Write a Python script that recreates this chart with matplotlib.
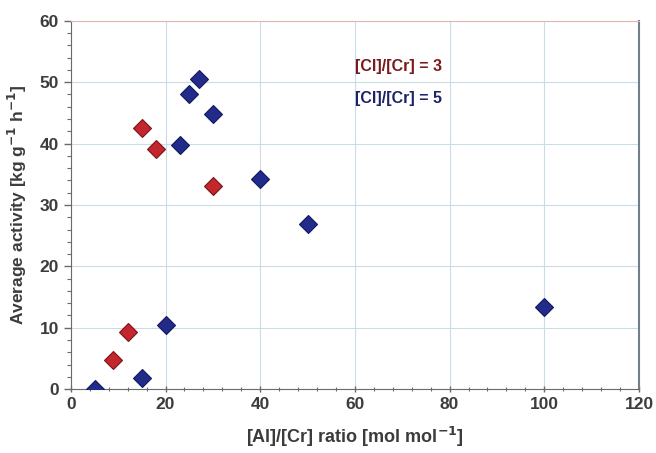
import matplotlib.pyplot as plt
from matplotlib.ticker import MultipleLocator

plt.rcParams['font.family'] = ['Liberation Sans', 'DejaVu Sans']

# Datos
x_cl3 = [9, 12, 15, 18, 30]
y_cl3 = [4.7, 9.3, 42.6, 39.1, 33.1]

x_cl5 = [5, 15, 20, 23, 25, 27, 30, 40, 50, 100]
y_cl5 = [0.0, 1.8, 10.4, 39.7, 48.0, 50.5, 44.9, 34.3, 26.9, 13.3]

etiquetas = ['[Cl]/[Cr] = 3', '[Cl]/[Cr] = 5']

rojo = '#c3262c'
azul = '#222a8a'
gris = '#3c3c3c'

fig = plt.figure(figsize=(6.56, 4.53), dpi=100)
ax = fig.add_axes([0.108, 0.141, 0.866, 0.813])

ax.grid(True, color='#c9dce8', linewidth=0.8, zorder=0)
ax.set_axisbelow(True)

ax.plot(x_cl3, y_cl3, 'D', ms=9.5, color=rojo, mec='#7a1418', mew=0.8, ls='none', zorder=3)
ax.plot(x_cl5, y_cl5, 'D', ms=9.5, color=azul, mec='#121a5e', mew=0.8, ls='none', zorder=3)

ax.text(60.0, 52.5, etiquetas[0], color='#7a1a1a', fontsize=11.5, fontweight='bold', va='center')
ax.text(60.0, 47.4, etiquetas[1], color='#1c2468', fontsize=11.5, fontweight='bold', va='center')

ax.set_xlim(0, 120)
ax.set_ylim(0, 60)
ax.xaxis.set_major_locator(MultipleLocator(20))
ax.xaxis.set_minor_locator(MultipleLocator(4))
ax.yaxis.set_major_locator(MultipleLocator(10))
ax.yaxis.set_minor_locator(MultipleLocator(2))

ax.tick_params(axis='both', which='major', labelsize=12.5, labelcolor=gris,
               color='#6a6a6a', length=5, width=1, direction='out')
ax.tick_params(axis='both', which='minor', color='#6a6a6a', length=3, width=0.8, direction='out')
ax.tick_params(axis='x', which='both', direction='inout')
for lab in ax.get_xticklabels() + ax.get_yticklabels():
    lab.set_fontweight('bold')

ax.spines['left'].set_color('#6a6a6a')
ax.spines['bottom'].set_color('#6a6a6a')
ax.spines['top'].set_color('#e0b8b0')
ax.spines['right'].set_color('#6f7f8c')
ax.spines['right'].set_linewidth(1.5)

ax.set_xlabel('[Al]/[Cr] ratio [mol mol$^{\\mathbf{-1}}$]', fontsize=13, fontweight='bold', color=gris, labelpad=9)
ax.set_ylabel('Average activity [kg g$^{\\mathbf{-1}}$ h$^{\\mathbf{-1}}$]', fontsize=12.5, fontweight='bold', color=gris, labelpad=8)

fig.savefig('out.png', dpi=100)
